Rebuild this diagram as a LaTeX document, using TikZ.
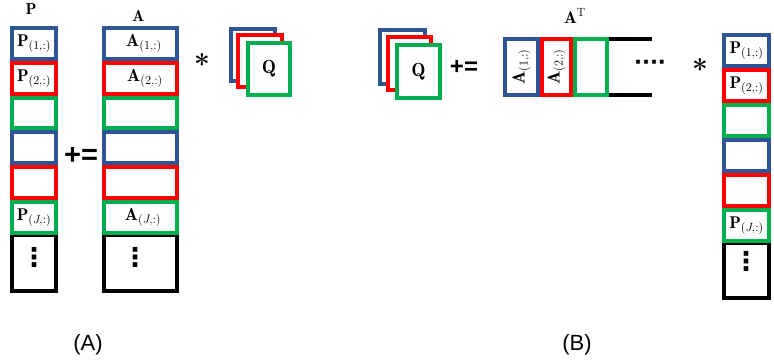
\RequirePackage{fix-cm}
\documentclass[tikz,border=0pt]{standalone}
\usepackage{fontspec}
\newfontfamily\arialfont{Liberation Sans}
\newfontfamily\dejavufont{DejaVu Sans}
\definecolor{cblue}{HTML}{2F5597}
\definecolor{cred}{HTML}{FF0000}
\definecolor{cgreen}{HTML}{00B050}

\begin{document}
\begin{tikzpicture}[x=1pt,y=-1pt,
  cell/.style={draw, line width=4pt, inner sep=0pt, outer sep=0pt, fill=white,
    font=\fontsize{17}{20}\selectfont},
  celltext/.style={inner sep=0pt, font=\fontsize{17.5}{20}\selectfont},
  label/.style={inner sep=0pt, font=\fontsize{16}{19}\selectfont},
  oper/.style={inner sep=0pt, font=\arialfont\bfseries\fontsize{29}{30}\selectfont},
  star/.style={inner sep=0pt, font=\bfseries\fontsize{28}{30}\selectfont},
  vdotsnode/.style={inner sep=0pt, font=\dejavufont\bfseries\fontsize{26}{28}\selectfont},
  caption/.style={inner sep=0pt, font=\arialfont\fontsize{22}{24}\selectfont},
  qbox/.style={draw, line width=4pt, inner sep=0pt, outer sep=0pt, fill=white,
    font=\fontsize{19}{22}\selectfont},
]
\useasboundingbox (0,0) rectangle (774,362);

% ---------------- (A) ----------------
% column P
\node[cell, draw=black, minimum width=44pt, minimum height=56.2pt] (pdots) at (34,262.9) {};
\node[cell, draw=cblue,  minimum width=44pt, minimum height=30.8pt] (p1) at (34,43.4)  {$\mathbf{P}_{(1,:)}$};
\node[cell, draw=cred,   minimum width=44pt, minimum height=30.8pt] (p2) at (34,78.2)  {$\mathbf{P}_{(2,:)}$};
\node[cell, draw=cgreen, minimum width=44pt, minimum height=30.8pt] (p3) at (34,113.0) {};
\node[cell, draw=cblue,  minimum width=44pt, minimum height=30.8pt] (p4) at (34,147.8) {};
\node[cell, draw=cred,   minimum width=44pt, minimum height=30.8pt] (p5) at (34,182.6) {};
\node[cell, draw=cgreen, minimum width=44pt, minimum height=30.8pt] (p6) at (34,217.4) {$\mathbf{P}_{(J,:)}$};
\node[vdotsnode] (pv) at (34,257) {⋮};
\node[label] (plabel) at (31,9) {$\mathbf{P}$};

% column A
\node[cell, draw=black, minimum width=73pt, minimum height=56.2pt] (adots) at (140.5,262.9) {};
\node[cell, draw=cblue,  minimum width=73pt, minimum height=30.8pt] (a1) at (140.5,43.4)  {};
\node[cell, draw=cred,   minimum width=73pt, minimum height=30.8pt] (a2) at (140.5,78.2)  {};
\node[cell, draw=cgreen, minimum width=73pt, minimum height=30.8pt] (a3) at (140.5,113.0) {};
\node[cell, draw=cblue,  minimum width=73pt, minimum height=30.8pt] (a4) at (140.5,147.8) {};
\node[cell, draw=cred,   minimum width=73pt, minimum height=30.8pt] (a5) at (140.5,182.6) {};
\node[cell, draw=cgreen, minimum width=73pt, minimum height=30.8pt] (a6) at (140.5,217.4) {};
\node[celltext] (a1t) at (144,43.4)  {$\mathbf{A}_{(1,:)}$};
\node[celltext] (a2t) at (145,78.2)  {$\mathbf{A}_{(2,:)}$};
\node[celltext] (a6t) at (143,217.4) {$\mathbf{A}_{(J,:)}$};
\node[vdotsnode] (av) at (135,257) {⋮};
\node[label] (alabel) at (138.5,16) {$\mathbf{A}$};

\node[oper] (pluseqA) at (81,155.5) {+=};
\node[star] (starA) at (202,64) {*};

% stack of Q
\node[qbox, draw=cblue,  minimum width=44pt, minimum height=52pt] (qa1) at (253,55) {};
\node[qbox, draw=cred,   minimum width=44pt, minimum height=52pt] (qa2) at (260,61) {};
\node[qbox, draw=cgreen, minimum width=42pt, minimum height=52pt] (qa3) at (269,69) {$\mathbf{Q}$};

\node[caption] (capA) at (88,345) {(A)};

% ---------------- (B) ----------------
\node[qbox, draw=cblue,  minimum width=45pt, minimum height=54pt] (qb1) at (402.5,57) {};
\node[qbox, draw=cred,   minimum width=43pt, minimum height=53pt] (qb2) at (409.5,63.5) {};
\node[qbox, draw=cgreen, minimum width=43pt, minimum height=53pt] (qb3) at (418.5,71.5) {$\mathbf{Q}$};

\node[oper, font=\arialfont\bfseries\fontsize{24}{26}\selectfont] (pluseqB) at (464,67.5) {+=};

% row A^T
\node[label, font=\fontsize{17}{20}\selectfont] (atlabel) at (575,16) {$\mathbf{A}^{\mathrm{T}}$};
\node[cell, draw=cblue,  minimum width=33pt, minimum height=56pt] (t1) at (521.5,67) {};
\node[cell, draw=cred,   minimum width=29pt, minimum height=56pt] (t2) at (556.5,67) {};
\node[cell, draw=cgreen, minimum width=32pt, minimum height=56pt] (t3) at (591,67) {};
\node[celltext, rotate=90] (t1t) at (521.5,67) {$\mathbf{A}_{(1,:)}$};
\node[celltext, rotate=90] (t2t) at (556.5,67) {$\mathbf{A}_{(2,:)}$};
\coordinate (topend) at (652,39);
\coordinate (botend) at (652,95);
\draw[line width=4pt] ([xshift=2pt]t3.north east) -- (topend);
\draw[line width=4pt] ([xshift=2pt]t3.south east) -- (botend);
\node[inner sep=0pt, font=\dejavufont\bfseries\fontsize{21}{23}\selectfont] (hdots) at (650,65) {····};

\node[star] (starB) at (700,69) {*};

% column P (right)
\node[cell, draw=black, minimum width=45pt, minimum height=55pt] (rdots) at (746.5,270.5) {};
\node[cell, draw=cblue,  minimum width=45pt, minimum height=31pt] (r1) at (746.5,50.5)  {$\mathbf{P}_{(1,:)}$};
\node[cell, draw=cred,   minimum width=45pt, minimum height=31pt] (r2) at (746.5,85.5)  {$\mathbf{P}_{(2,:)}$};
\node[cell, draw=cgreen, minimum width=45pt, minimum height=31pt] (r3) at (746.5,120.5) {};
\node[cell, draw=cblue,  minimum width=45pt, minimum height=31pt] (r4) at (746.5,155.5) {};
\node[cell, draw=cred,   minimum width=45pt, minimum height=31pt] (r5) at (746.5,190.5) {};
\node[cell, draw=cgreen, minimum width=45pt, minimum height=31pt] (r6) at (746.5,225.5) {$\mathbf{P}_{(J,:)}$};
\node[vdotsnode] (rv) at (746,261) {⋮};

\node[caption] (capB) at (577,345) {(B)};
\end{tikzpicture}
\end{document}
